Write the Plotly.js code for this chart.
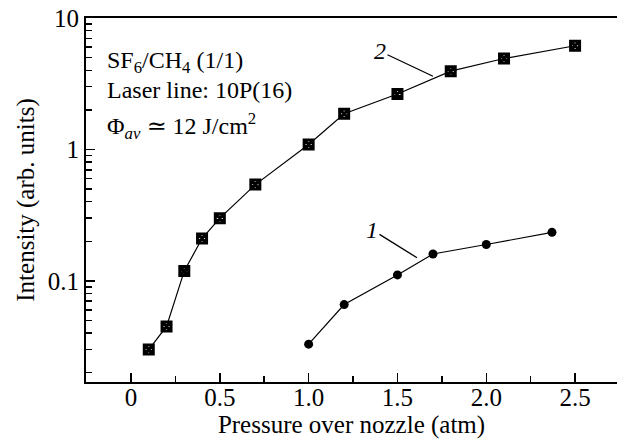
<!DOCTYPE html>
<html>
<head>
<meta charset="utf-8">
<script src="https://cdn.plot.ly/plotly-3.0.1.min.js"></script>
<style>
  html, body { margin: 0; padding: 0; background: #fff; }
  #chart { width: 617px; height: 439px; }
</style>
</head>
<body>
<div id="chart"></div>
<script>
// Curve 2: SF6/CH4 mixture, square markers
const pressure2 = [0.1, 0.2, 0.3, 0.4, 0.5, 0.7, 1.0, 1.2, 1.5, 1.8, 2.1, 2.5];
const intensity2 = [0.030, 0.045, 0.119, 0.21, 0.30, 0.54, 1.09, 1.87, 2.64, 3.94, 4.92, 6.15];

// Curve 1: circle markers
const pressure1 = [1.0, 1.2, 1.5, 1.7, 2.0, 2.37];
const intensity1 = [0.033, 0.066, 0.111, 0.160, 0.189, 0.234];

// Axis ticks
const xTickVals = [0, 0.5, 1.0, 1.5, 2.0, 2.5];
const xTickText = ['0', '0.5', '1.0', '1.5', '2.0', '2.5'];
const yTickVals = [0.1, 1, 10];
const yTickText = ['0.1', '1', '10'];
const yMinorVals = [0.02, 0.03, 0.04, 0.05, 0.06, 0.07, 0.08, 0.09,
                    0.2, 0.3, 0.4, 0.5, 0.6, 0.7, 0.8, 0.9,
                    2, 3, 4, 5, 6, 7, 8, 9];

const serif = "'Liberation Serif', 'DejaVu Serif', serif";

const traces = [
  {
    x: pressure2, y: intensity2, type: 'scatter', mode: 'lines+markers',
    line: { color: '#000', width: 1.2 },
    marker: { symbol: 'square-x-open', size: 9, color: '#000', line: { width: 3, color: '#000' } },
    hoverinfo: 'x+y'
  },
  {
    x: pressure1, y: intensity1, type: 'scatter', mode: 'lines+markers',
    line: { color: '#000', width: 1.2 },
    marker: { symbol: 'circle', size: 9, color: '#000' },
    hoverinfo: 'x+y'
  }
];

const layout = {
  width: 617, height: 439,
  margin: { l: 86, r: 0, t: 18, b: 57 },
  paper_bgcolor: '#fff', plot_bgcolor: '#fff',
  showlegend: false,
  font: { family: serif, size: 25, color: '#000' },
  xaxis: {
    range: [-0.2534, 2.736],
    tickmode: 'array', tickvals: xTickVals, ticktext: xTickText,
    ticks: 'inside', ticklen: 9, tickwidth: 1.5, tickcolor: '#000',
    minor: { dtick: 0.25, tick0: 0, ticks: 'inside', ticklen: 6, tickwidth: 1.5, tickcolor: '#000', showgrid: false },
    showline: true, linewidth: 2, linecolor: '#000', mirror: true,
    showgrid: false, zeroline: false,
    tickfont: { family: serif, size: 25 },
    ticklabelstandoff: -8,
    title: { text: 'Pressure over nozzle (atm)', font: { family: serif, size: 25 }, standoff: 4 }
  },
  yaxis: {
    type: 'log',
    range: [Math.log10(0.017), 1],
    tickmode: 'array', tickvals: yTickVals, ticktext: yTickText,
    ticks: 'inside', ticklen: 9, tickwidth: 1.5, tickcolor: '#000',
    minor: { tickmode: 'array', tickvals: yMinorVals, ticks: 'inside', ticklen: 6, tickwidth: 1.5, tickcolor: '#000', showgrid: false },
    showline: true, linewidth: 2, linecolor: '#000', mirror: false,
    showgrid: false, zeroline: false,
    tickfont: { family: serif, size: 25 },
    title: { text: 'Intensity (arb. units)', font: { family: serif, size: 25 }, standoff: 6 }
  },
  annotations: [
    { xref: 'paper', yref: 'paper', x: 0.036, y: 0.88, xanchor: 'left', yanchor: 'middle',
      text: 'SF<sub>6</sub>/CH<sub>4</sub> (1/1)', showarrow: false, font: { family: serif, size: 24 } },
    { xref: 'paper', yref: 'paper', x: 0.036, y: 0.802, xanchor: 'left', yanchor: 'middle',
      text: 'Laser line: 10P(16)', showarrow: false, font: { family: serif, size: 24 } },
    { xref: 'paper', yref: 'paper', x: 0.036, y: 0.703, xanchor: 'left', yanchor: 'middle',
      text: 'Φ<sub><i>av</i></sub> ≃ 12 J/cm<sup>2</sup>', showarrow: false, font: { family: serif, size: 24 } },
    { xref: 'x', yref: 'y', x: 1.70, y: 0.557, text: '<i>2</i>', showarrow: true,
      arrowhead: 0, arrowwidth: 1.3, arrowcolor: '#000', ax: -53, ay: -25,
      font: { family: serif, size: 24 } },
    { xref: 'x', yref: 'y', x: 1.61, y: -0.824, text: '<i>1</i>', showarrow: true,
      arrowhead: 0, arrowwidth: 1.3, arrowcolor: '#000', ax: -45, ay: -28,
      font: { family: serif, size: 24 } }
  ]
};

Plotly.newPlot('chart', traces, layout, { displayModeBar: false, staticPlot: true });
</script>
</body>
</html>
